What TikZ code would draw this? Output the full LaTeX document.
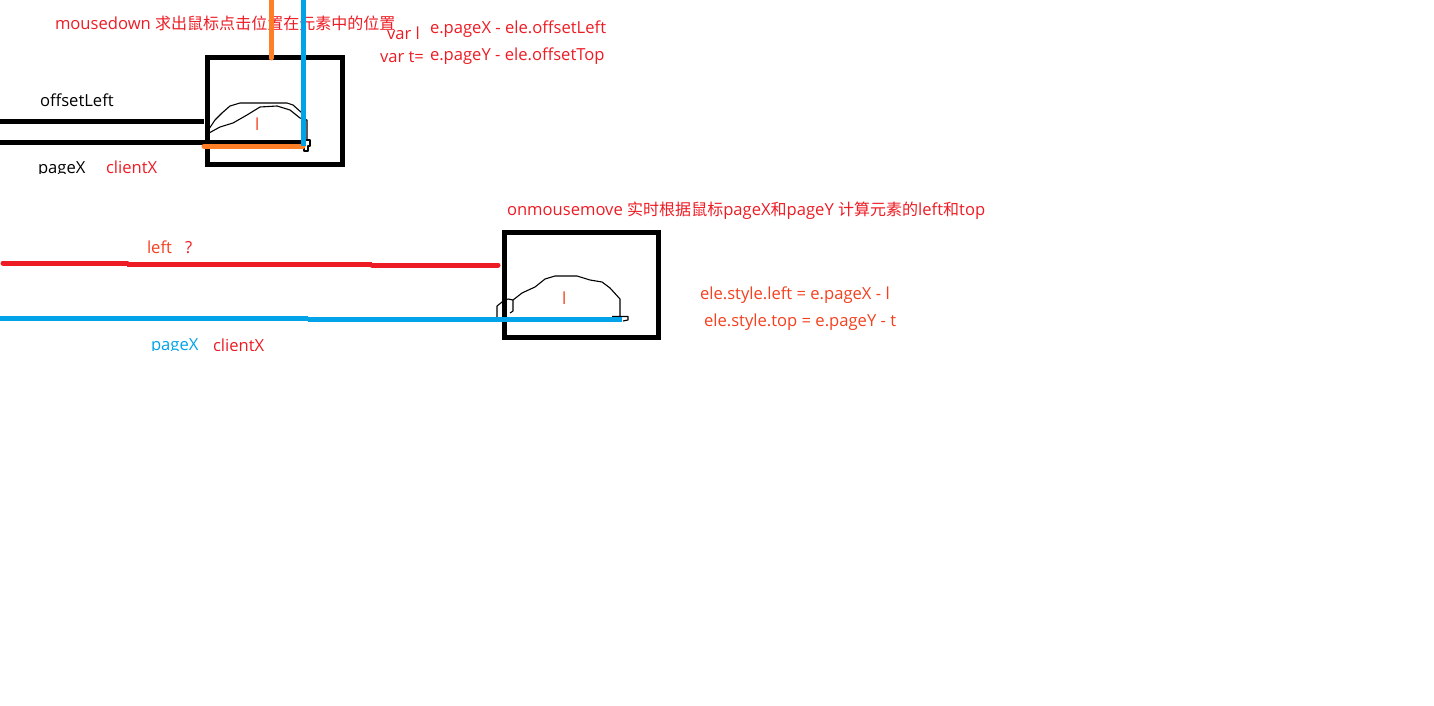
\documentclass[tikz,border=0pt]{standalone}
\usepackage{fontspec}
\setmainfont{Open Sans}
\newfontfamily\cjk[Scale=0.965]{Noto Sans CJK SC}
\definecolor{mred}{HTML}{ED1C24}
\definecolor{morange}{HTML}{FF7F27}
\definecolor{mblue}{HTML}{00A2E8}
\definecolor{lred}{HTML}{F4401E}
\tikzset{
  lab/.style={anchor=base west,inner sep=0pt,outer sep=0pt,font=\fontsize{16.6}{18}\selectfont},
  redlab/.style={lab,text=mred},
  hlab/.style={lab,text=lred},
  fat/.style={line width=5pt},
  boxline/.style={draw=black,line width=5pt},
  sketchline/.style={draw=black,line width=1.1pt,line join=round}
}
\begin{document}
\begin{tikzpicture}[x=1pt,y=-1pt]
\useasboundingbox (0,0) rectangle (1434,706);
% --- texts under the strokes
\node[redlab] (t1) at (55,30) {mousedown {\cjk 求出鼠标点击位置在元素中的位置}};
\node[redlab] (t2) at (387,39.5) {var l};
\node[redlab] (t3) at (380,62.5) {var t=};
\node[redlab] (t4) at (430,33.5) {e.pageX - ele.offsetLeft};
\node[redlab] (t5) at (430,60.5) {e.pageY - ele.offsetTop};
\node[lab] (t6) at (40,107) {offsetLeft};
\begin{scope}
\clip (0,150) rectangle (300,173.5);
\node[lab] (t7) at (38,173) {pageX};
\node[redlab] (t8) at (106,173) {clientX};
\end{scope}
\node[redlab] (t9) at (507,215) {onmousemove {\cjk 实时根据鼠标}pageX{\cjk 和}pageY {\cjk 计算元素的}left{\cjk 和}top};
\node[hlab] (t10) at (147,253) {left};
\node[redlab] (t11) at (185,253) {?};
\begin{scope}
\clip (0,330) rectangle (300,350.5);
\node[lab,text=mblue] (t12) at (151,350) {pageX};
\node[redlab] (t13) at (213,351) {clientX};
\end{scope}
\node[hlab] (t14) at (700,299) {ele.style.left = e.pageX - l};
\node[hlab] (t15) at (704,326) {ele.style.top = e.pageY - t};
\node[hlab] (t16) at (255,130.5) {l};
\node[hlab] (t17) at (562,304.5) {l};
% --- first element
\draw[boxline] (207.5,58) rectangle (342.5,164.5);
\draw[fat,black] (0,121.6) -- (204,121.6);
\draw[fat,black] (0,142.3) -- (303,142.3);
\draw[sketchline] (209,129) -- (215,120) -- (222,113) -- (230,106) -- (240,103) -- (287,103) -- (293,105) -- (302,113);
\draw[sketchline] (209,133) -- (220,127) -- (233,123) -- (247,115) -- (260,107) -- (277,106) -- (290,110) -- (300,118) -- (307,120) -- (307,140);
\draw[sketchline] (304,151) -- (304,140) -- (310,140) -- (310,146) -- (308,146) -- (308,151) -- cycle;
\draw[fat,morange,line cap=round] (204,146.4) -- (303,146.4);
\draw[fat,morange,line cap=round] (271,0) -- (271,58);
\draw[fat,mblue] (303,0) -- (303,146);
% --- second element
\draw[boxline] (504.5,232.5) rectangle (658.5,337.5);
\draw[fat,mred,line cap=round] (3,263) -- (127,263);
\draw[fat,mred] (127,264) -- (372,264);
\draw[fat,mred,line cap=round] (372,265) -- (498,265);
\draw[sketchline] (510,313) -- (513,311) -- (513,300) -- (522,293) -- (535,287) -- (545,279) -- (555,276) -- (577,276) -- (590,280) -- (602,282) -- (610,288) -- (620,299) -- (620,317);
\draw[sketchline] (497,317) -- (497,306) -- (502,302) -- (508,299) -- (513,300);
\draw[sketchline] (612,316.5) -- (628,316.5) -- (628,320) -- (623,321);
\draw[fat,mblue] (0,318.5) -- (308,318.5);
\draw[fat,mblue] (308,319.5) -- (622,319.5);
\end{tikzpicture}
\end{document}
